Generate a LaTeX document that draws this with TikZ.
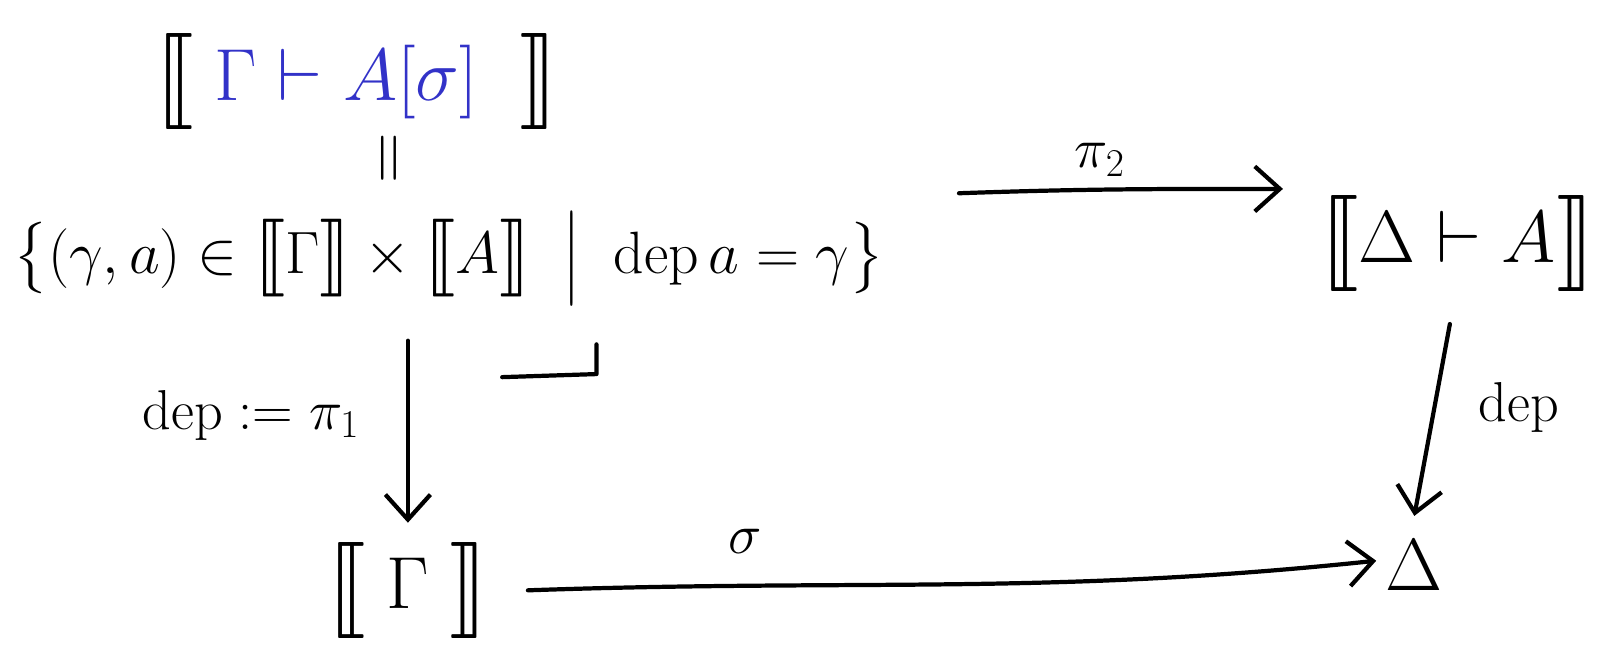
\RequirePackage{fix-cm}
\documentclass[tikz,border=0pt]{standalone}
\usepackage{amsmath,amssymb,stmaryrd,graphicx}
\usetikzlibrary{arrows.meta}
\definecolor{inkblue}{RGB}{50,50,200}
% semantic brackets, stretched to a height relative to the current font
\newcommand\lsem{\mathopen{\vcenter{\hbox{\resizebox*{!}{1.3em}{$\llbracket$}}}}}
\newcommand\rsem{\mathclose{\vcenter{\hbox{\resizebox*{!}{1.3em}{$\rrbracket$}}}}}
\newcommand\sem[1]{\lsem #1\rsem}
% tall bar of the set-builder notation
\newcommand\suchthat{\mathrel{\vcenter{\hbox{\scalebox{1}[1.6]{$|$}}}}}
\begin{document}
\begin{tikzpicture}[x=0.0205cm,y=-0.0205cm,
  every node/.style={inner sep=1pt},
  obj/.style={font=\fontsize{34}{40}\selectfont},
  bigobj/.style={font=\fontsize{42}{50}\selectfont},
  lbl/.style={font=\fontsize{32}{38}\selectfont},
  stroke/.style={line width=2.4pt, line cap=round, line join=round},
  arr/.style={stroke, -{Straight Barb[length=5mm,width=9mm,line width=2.4pt]}},
  ]
\useasboundingbox (0,0) rectangle (1568,632);

% objects of the square
\node[bigobj] (top) at (348,80)
  {$\sem{\;\textcolor{inkblue}{\Gamma \vdash A[\sigma]}\;\;}$};
\node[font=\fontsize{40}{46}\selectfont, rotate=90] (eq) at (384,154) {$=$};
\node[obj] (set) at (438,252)
  {$\bigl\{(\gamma, a) \in \sem{\Gamma} \times \sem{A}
    \;\suchthat\; \mathrm{dep}\,a = \gamma\bigr\}$};
\node[bigobj] (DA) at (1422,238) {$\sem{\Delta \vdash A}$};
\node[bigobj] (Gam) at (398,576) {$\sem{\;\Gamma\;}$};
\node[bigobj] (Del) at (1380,552) {$\Delta$};

% pullback corner
\coordinate (pbA) at (490,368);
\coordinate (pbB) at (582,365);
\coordinate (pbC) at (582,336);
\draw[stroke] (pbA) -- (pbB) -- (pbC);

% morphisms
\draw[arr] ([xshift=1.45cm,yshift=1.3cm]set.east)
  to[out=2,in=180] ([xshift=-0.7cm,yshift=1.1cm]DA.west);
\node[lbl] (pi2) at (1073,156) {$\pi_2$};

\draw[arr] ([yshift=-0.65cm]set.south -| Gam.north) -- ([yshift=0.35cm]Gam.north);
\node[lbl] (dep1) at (245,405) {$\mathrm{dep} := \pi_1$};

\draw[arr] ([xshift=-0.15cm,yshift=-0.6cm]DA.south) -- ([yshift=0.45cm]Del.north);
\node[lbl] (dep2) at (1482,398) {$\mathrm{dep}$};

\draw[arr] ([xshift=0.75cm]Gam.east) to[out=2,in=186]
  ([xshift=-0.15cm,yshift=0.1cm]Del.west);
\node[lbl] (sig) at (727,528) {$\sigma$};
\end{tikzpicture}
\end{document}
